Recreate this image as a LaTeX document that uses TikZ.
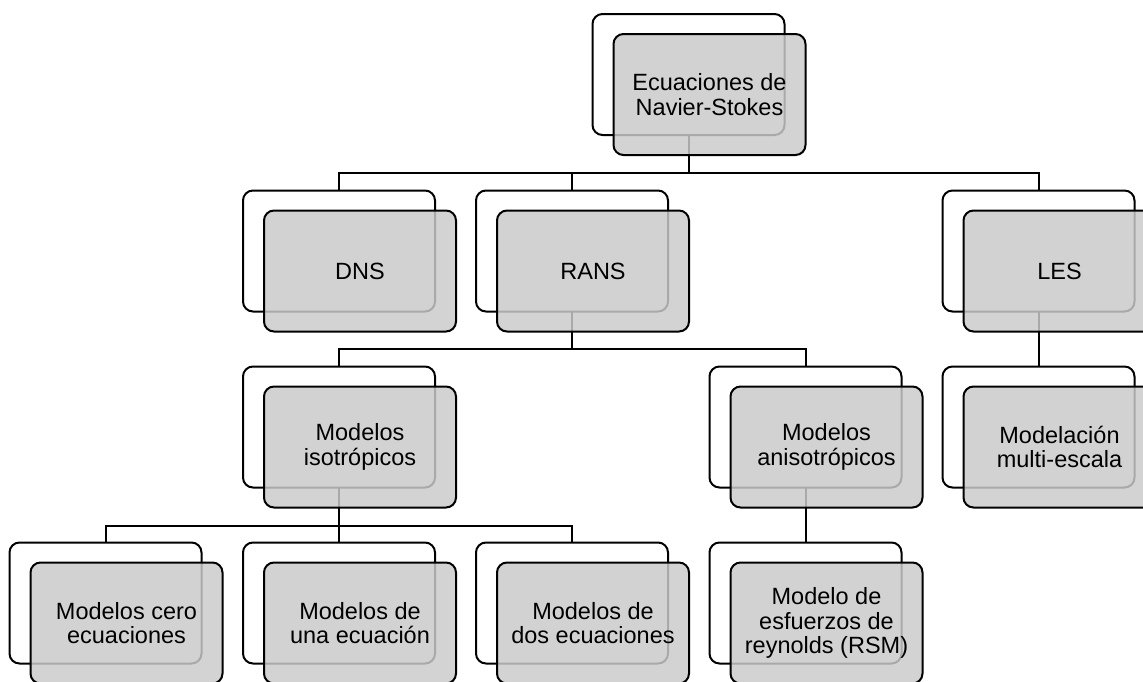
\documentclass[tikz,border=0pt]{standalone}
\usepackage{fontspec}
\setmainfont{Liberation Sans}
\begin{document}
\begin{tikzpicture}[x=1pt,y=-1pt,
  conn/.style={line width=2pt,draw=black},
  backbox/.style={draw=black,line width=2pt,fill=white,rounded corners=10pt,
    minimum width=192pt,minimum height=121pt,inner sep=0pt,outer sep=0pt},
  frontbox/.style={draw=black,line width=2pt,fill={rgb,255:red,202;green,202;blue,202},
    fill opacity=0.84,text opacity=1,rounded corners=10pt,
    minimum width=192pt,minimum height=121pt,inner sep=0pt,outer sep=0pt,
    align=center,font=\fontsize{23.5}{24.7}\selectfont}]
\useasboundingbox (0,0) rectangle (1143,681);
\clip (0,0) rectangle (1143,681);
% back boxes (centres)
\node[backbox] (topB) at (688.5,74.5) {};
\node[backbox] (dnsB) at (339,251) {};
\node[backbox] (ransB) at (572,251) {};
\node[backbox] (lesB) at (1038.5,251) {};
\node[backbox] (isoB) at (339,427) {};
\node[backbox] (aniB) at (805.5,427) {};
\node[backbox] (mulB) at (1038.5,427) {};
\node[backbox] (ceroB) at (105.5,603) {};
\node[backbox] (unaB) at (339,603) {};
\node[backbox] (dosB) at (572,603) {};
\node[backbox] (rsmB) at (805.5,603) {};
% horizontal levels
\coordinate (h1) at (0,173);
\coordinate (h2) at (0,349);
\coordinate (h3) at (0,526);
% connectors
\draw[conn] (topB.south) -- (topB.south |- h1) -| (dnsB.north);
\draw[conn] (topB.south |- h1) -| (ransB.north);
\draw[conn] (topB.south |- h1) -| (lesB.north);
\draw[conn] (ransB.south) -- (ransB.south |- h2) -| (isoB.north);
\draw[conn] (ransB.south |- h2) -| (aniB.north);
\draw[conn] (lesB.south) -- (mulB.north);
\draw[conn] (isoB.south) -- (isoB.south |- h3) -| (ceroB.north);
\draw[conn] (isoB.south |- h3) -| (unaB.north);
\draw[conn] (isoB.south |- h3) -| (dosB.north);
\draw[conn] (aniB.south) -- (rsmB.north);
% front boxes
\node[frontbox] (top) at ([shift={(21,20)}]topB.center) {Ecuaciones de\\Navier-Stokes};
\node[frontbox] (dns) at ([shift={(21,20)}]dnsB.center) {DNS};
\node[frontbox] (rans) at ([shift={(21,20)}]ransB.center) {RANS};
\node[frontbox] (les) at ([shift={(21,20)}]lesB.center) {LES};
\node[frontbox] (iso) at ([shift={(21,20)}]isoB.center) {Modelos\\isotrópicos};
\node[frontbox] (ani) at ([shift={(21,20)}]aniB.center) {Modelos\\anisotrópicos};
\node[frontbox] (mul) at ([shift={(21,20)}]mulB.center) {Modelación\\multi-escala};
\node[frontbox] (cero) at ([shift={(21,20)}]ceroB.center) {Modelos cero\\ecuaciones};
\node[frontbox] (una) at ([shift={(21,20)}]unaB.center) {Modelos de\\una ecuación};
\node[frontbox] (dos) at ([shift={(21,20)}]dosB.center) {Modelos de\\dos ecuaciones};
\node[frontbox] (rsm) at ([shift={(21,20)}]rsmB.center) {Modelo de\\esfuerzos de\\reynolds (RSM)};
\end{tikzpicture}
\end{document}
